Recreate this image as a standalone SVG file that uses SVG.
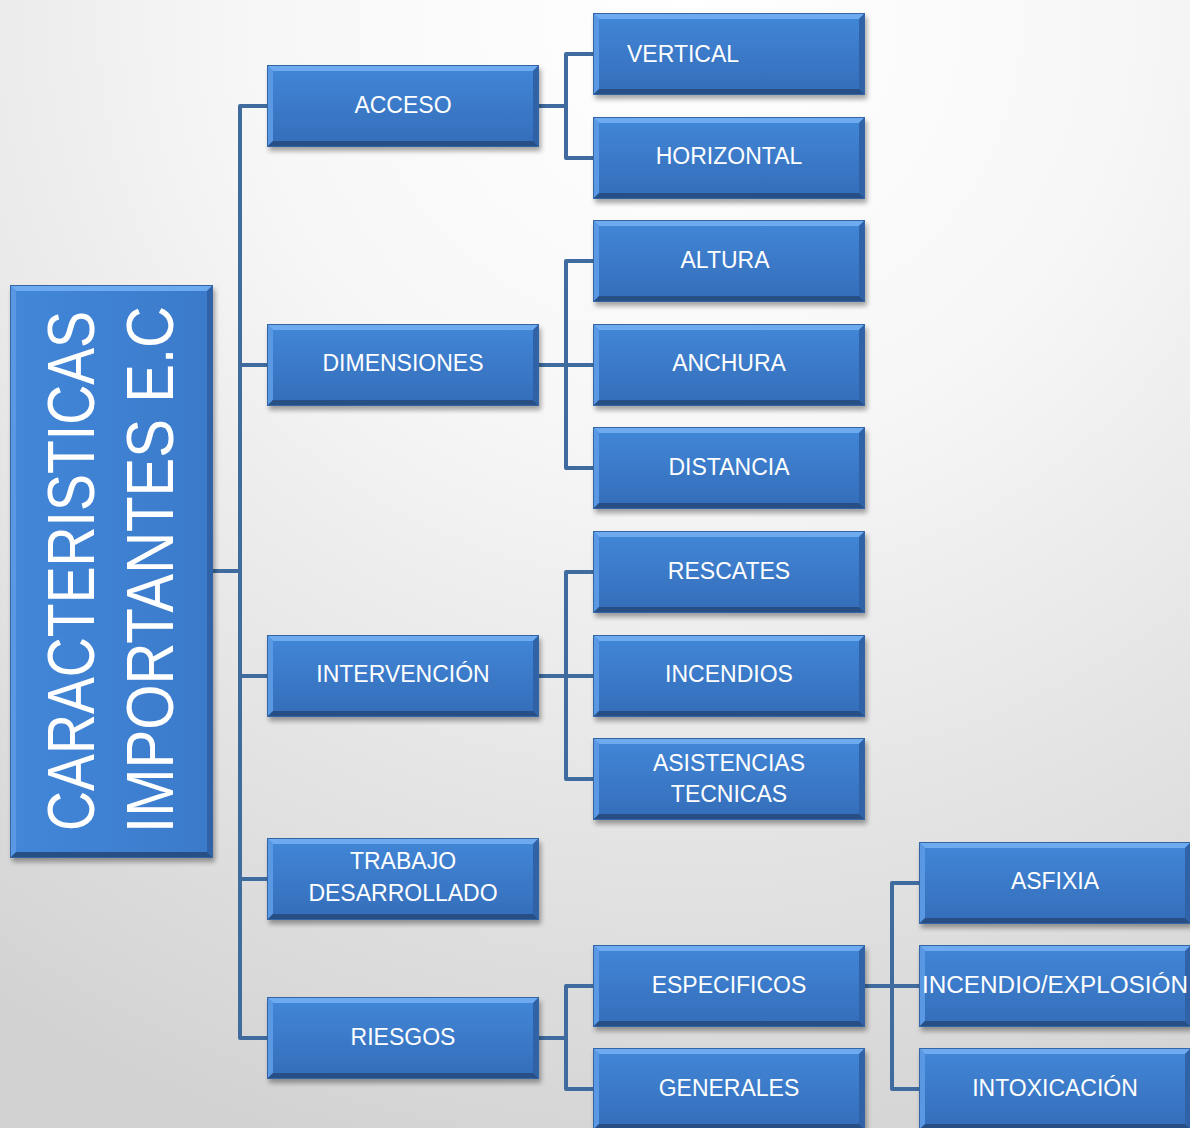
<svg xmlns="http://www.w3.org/2000/svg" xmlns:xlink="http://www.w3.org/1999/xlink" width="1190" height="1128" viewBox="0 0 1190 1128">
<defs>
<radialGradient id="bg" cx="0.58" cy="0.02" r="1.05" fx="0.58" fy="0.02">
<stop offset="0" stop-color="#ffffff"/>
<stop offset="0.35" stop-color="#f7f7f7"/>
<stop offset="1" stop-color="#d2d2d2"/>
</radialGradient>
<linearGradient id="body" x1="0" y1="0" x2="0" y2="1">
<stop offset="0" stop-color="#4287d8"/>
<stop offset="1" stop-color="#346db9"/>
</linearGradient>
<linearGradient id="bodyR" x1="0" y1="0" x2="1" y2="0">
<stop offset="0" stop-color="#4287d8"/>
<stop offset="1" stop-color="#3b7acb"/>
</linearGradient>
<filter id="sh" x="-10%" y="-10%" width="125%" height="130%">
<feGaussianBlur stdDeviation="2.5"/>
</filter>
<g id="box">
<rect x="2" y="4" width="272" height="82" fill="#000" opacity="0.35" filter="url(#sh)"/>
<rect x="0" y="0" width="272" height="82" fill="url(#body)"/>
<polygon points="0,0 272,0 266,6 6,6" fill="#6eaaf0"/>
<polygon points="0,0 6,6 6,76 0,82" fill="#5a98e4"/>
<polygon points="272,0 272,82 266,76 266,6" fill="#2f62a6"/>
<polygon points="0,82 6,76 266,76 272,82" fill="#274f86"/>
<rect x="0.5" y="0.5" width="271" height="81" fill="none" stroke="#3465a4" stroke-width="1"/>
</g>
</defs>
<style>
.lbl{font-family:"Liberation Sans",Arial,sans-serif;font-size:23px;fill:#ffffff;text-anchor:middle}
.root{font-family:"Liberation Sans",Arial,sans-serif;font-size:66px;fill:#ffffff}
.conn{fill:none;stroke:#3f6b9f;stroke-width:4;stroke-linejoin:round}
</style>
<rect x="0" y="0" width="1190" height="1128" fill="url(#bg)"/>

<g id="connectors">
<path class="conn" d="M213,571 H240"/>
<path class="conn" d="M267,106 H240 V1038 H267"/>
<path class="conn" d="M240,365 H267 M240,676 H267 M240,879 H267"/>
<path class="conn" d="M539,106 H566 M593,54 H566 V158 H593"/>
<path class="conn" d="M539,365 H593 M593,261 H566 V468 H593"/>
<path class="conn" d="M539,676 H593 M593,572 H566 V779 H593"/>
<path class="conn" d="M539,1038 H566 M593,986 H566 V1089 H593"/>
<path class="conn" d="M864,986 H919 M919,883 H892 V1089 H919"/>
</g>

<g id="root">
<rect x="12" y="289" width="203" height="573" fill="#000" opacity="0.35" filter="url(#sh)"/>
<rect x="10" y="285" width="203" height="573" fill="url(#bodyR)"/>
<polygon points="10,285 213,285 207,291 16,291" fill="#6eaaf0"/>
<polygon points="10,285 16,291 16,852 10,858" fill="#5a98e4"/>
<polygon points="213,285 213,858 207,852 207,291" fill="#2f62a6"/>
<polygon points="10,858 16,852 207,852 213,858" fill="#274f86"/>
<rect x="10.5" y="285.5" width="202" height="572" fill="none" stroke="#3465a4"/>
<text class="root" transform="translate(94,831) rotate(-90)" textLength="520" lengthAdjust="spacingAndGlyphs">CARACTERISTICAS</text>
<text class="root" transform="translate(173,833) rotate(-90)" textLength="527" lengthAdjust="spacingAndGlyphs">IMPORTANTES E.C</text>
</g>

<g id="acceso"><use xlink:href="#box" x="267" y="65"/><text class="lbl" x="403" y="113">ACCESO</text></g>
<g id="dimensiones"><use xlink:href="#box" x="267" y="324"/><text class="lbl" x="403" y="371">DIMENSIONES</text></g>
<g id="intervencion"><use xlink:href="#box" x="267" y="635"/><text class="lbl" x="403" y="682">INTERVENCIÓN</text></g>
<g id="trabajo"><use xlink:href="#box" x="267" y="838"/><text class="lbl" x="403" y="869">TRABAJO</text><text class="lbl" x="403" y="901">DESARROLLADO</text></g>
<g id="riesgos"><use xlink:href="#box" x="267" y="997"/><text class="lbl" x="403" y="1045">RIESGOS</text></g>

<g id="vertical"><use xlink:href="#box" x="593" y="13"/><text class="lbl" x="627" y="62" style="text-anchor:start">VERTICAL</text></g>
<g id="horizontal"><use xlink:href="#box" x="593" y="117"/><text class="lbl" x="729" y="164">HORIZONTAL</text></g>
<g id="altura"><use xlink:href="#box" x="593" y="220"/><text class="lbl" x="725" y="268">ALTURA</text></g>
<g id="anchura"><use xlink:href="#box" x="593" y="324"/><text class="lbl" x="729" y="371">ANCHURA</text></g>
<g id="distancia"><use xlink:href="#box" x="593" y="427"/><text class="lbl" x="729" y="475">DISTANCIA</text></g>
<g id="rescates"><use xlink:href="#box" x="593" y="531"/><text class="lbl" x="729" y="579">RESCATES</text></g>
<g id="incendios"><use xlink:href="#box" x="593" y="635"/><text class="lbl" x="729" y="682">INCENDIOS</text></g>
<g id="asistencias"><use xlink:href="#box" x="593" y="738"/><text class="lbl" x="729" y="771">ASISTENCIAS</text><text class="lbl" x="729" y="802">TECNICAS</text></g>
<g id="especificos"><use xlink:href="#box" x="593" y="945"/><text class="lbl" x="729" y="993">ESPECIFICOS</text></g>
<g id="generales"><use xlink:href="#box" x="593" y="1048"/><text class="lbl" x="729" y="1096">GENERALES</text></g>

<g id="asfixia"><use xlink:href="#box" x="919" y="842"/><text class="lbl" x="1055" y="889">ASFIXIA</text></g>
<g id="incendio-explosion"><use xlink:href="#box" x="919" y="945"/><text class="lbl" x="1055" y="993" textLength="266" lengthAdjust="spacingAndGlyphs">INCENDIO/EXPLOSIÓN</text></g>
<g id="intoxicacion"><use xlink:href="#box" x="919" y="1048"/><text class="lbl" x="1055" y="1096">INTOXICACIÓN</text></g>
</svg>
